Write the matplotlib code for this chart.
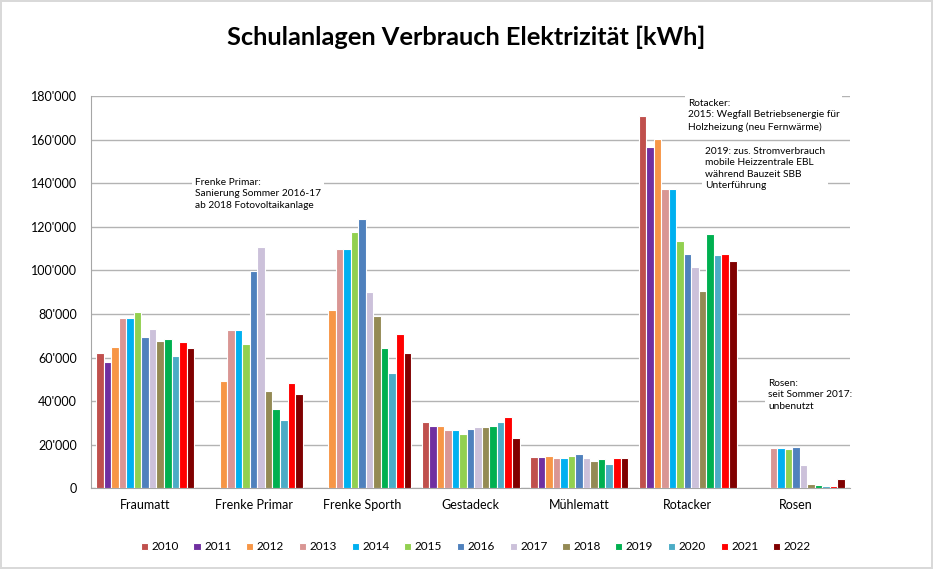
import numpy as np
import matplotlib
matplotlib.use("Agg")
import matplotlib.pyplot as plt
from matplotlib.ticker import FuncFormatter

plt.rcParams['font.family'] = ['Lato', 'DejaVu Sans']

categories = ["Fraumatt", "Frenke Primar", "Frenke Sporth", "Gestadeck", "Mühlematt", "Rotacker", "Rosen"]
years = ["2010", "2011", "2012", "2013", "2014", "2015", "2016", "2017", "2018", "2019", "2020", "2021", "2022"]
colors = ["#C0504D", "#7030A0", "#F79646", "#D99694", "#00B0F0", "#92D050", "#4F81BD",
          "#CCC1DA", "#948A54", "#00B050", "#4BACC6", "#FF0000", "#800000"]

N = None
fraumatt = [62000, 58000, 65000, 78200, 78200, 80800, 69200, 73000, 67500, 68500, 60700, 67300, 64600]
frenke_primar = [N, N, 49200, 72600, 72600, 66200, 99800, 110800, 44500, 36500, 31300, 48100, 43100]
frenke_sporth = [N, N, 81800, 109600, 109600, 117700, 123600, 90000, 79100, 64600, 53000, 70700, 62000]
gestadeck = [30300, 28700, 28700, 26600, 26600, 24900, 27200, 28100, 28100, 28600, 30400, 32700, 22900]
muehlematt = [14400, 14400, 14700, 13900, 13900, 14800, 15900, 13800, 12500, 13400, 11100, 13800, 14000]
rotacker = [170700, 156500, 160500, 137500, 137500, 113400, 107400, 101600, 90600, 116900, 107100, 107400, 104100]
rosen = [N, N, N, 18300, 18300, 18000, 19100, 10700, 1700, 1500, 1000, 1200, 4400]

groups = [fraumatt, frenke_primar, frenke_sporth, gestadeck, muehlematt, rotacker, rosen]
data = np.array([[np.nan if v is None else v for v in g] for g in groups], dtype=float)

fig = plt.figure(figsize=(9.33, 5.69), dpi=100)
fig.patch.set_edgecolor('#D9D9D9')
fig.patch.set_linewidth(1.5)
ax = fig.add_axes([0.0975, 0.142, 0.814, 0.689])

x = np.arange(len(categories))
n = len(years)
gw = 0.9
slot = gw / n
for i, (yr, c) in enumerate(zip(years, colors)):
    vals = data[:, i]
    pos = x - gw / 2 + slot * (i + 0.5)
    mask = ~np.isnan(vals)
    ax.bar(pos[mask], vals[mask], width=slot, color=c, edgecolor='white', linewidth=0.8,
           label=yr, zorder=3)

ax.set_xlim(-0.5, len(categories) - 0.5)
ax.set_ylim(0, 180000)
ax.set_yticks(np.arange(0, 180001, 20000))
ax.yaxis.set_major_formatter(FuncFormatter(lambda v, p: "0" if v == 0 else f"{int(v):,}".replace(",", "'")))
ax.set_xticks(x)
ax.set_xticklabels(categories)
ax.tick_params(axis='both', labelsize=9, colors='black', length=0)
ax.tick_params(axis='x', pad=8)
ax.tick_params(axis='y', pad=10)
ax.grid(axis='y', color='#B3B3B3', linewidth=1, zorder=0)
for s in ['top', 'right']:
    ax.spines[s].set_visible(False)
ax.spines['left'].set_color('#A6A6A6')
ax.spines['bottom'].set_color('#A6A6A6')

fig.text(0.5, 0.935, "Schulanlagen Verbrauch Elektrizität [kWh]", ha='center', va='center',
         fontsize=18.3, fontweight='bold')

bbox = dict(facecolor='white', edgecolor='none', pad=2)
afs = 7.3
fig.text(195/933, 1 - 178/569, "Frenke Primar:\nSanierung Sommer 2016-17\nab 2018 Fotovoltaikanlage",
         ha='left', va='top', fontsize=afs, bbox=bbox, linespacing=1.35)
fig.text(688/933, 1 - 99/569, "Rotacker:\n2015: Wegfall Betriebsenergie für\nHolzheizung (neu Fernwärme)",
         ha='left', va='top', fontsize=afs, bbox=bbox, linespacing=1.35)
fig.text(705/933, 1 - 147/569, "2019: zus. Stromverbrauch\nmobile Heizzentrale EBL\nwährend Bauzeit SBB\nUnterführung",
         ha='left', va='top', fontsize=afs, bbox=bbox, linespacing=1.35)
fig.text(768/933, 1 - 379/569, "Rosen:\nseit Sommer 2017:\nunbenutzt",
         ha='left', va='top', fontsize=afs, bbox=bbox, linespacing=1.35)

leg = fig.legend(loc='center', bbox_to_anchor=(0.51, 1 - 547/569), ncol=13, frameon=False,
                 fontsize=8.5, handlelength=0.6, handleheight=0.6, handletextpad=0.3,
                 columnspacing=1.25)

fig.savefig("out.png", dpi=100)
